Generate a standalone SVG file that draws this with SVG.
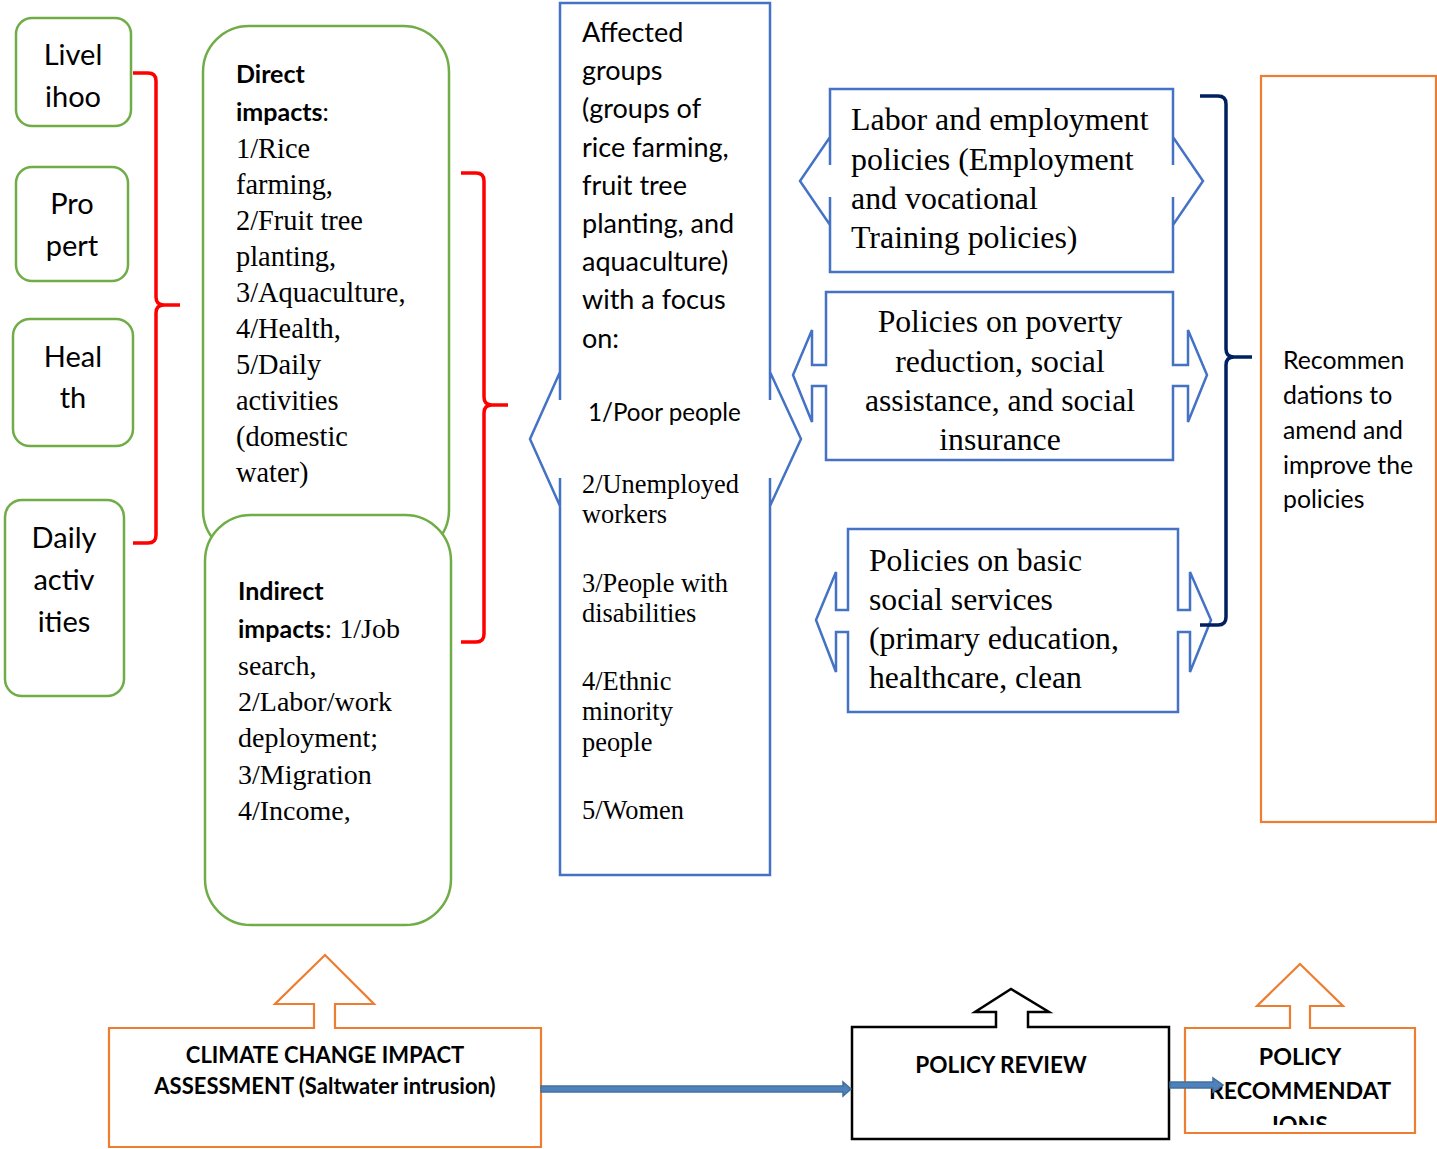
<svg xmlns="http://www.w3.org/2000/svg" width="1437" height="1149" viewBox="0 0 1437 1149">
<style>
.bg{fill:#fff}
.green{fill:#fff;stroke:#70AD47;stroke-width:2.5}
.blue{fill:#fff;stroke:#4472C4;stroke-width:2.5}
.orange{fill:#fff;stroke:#ED7D31;stroke-width:2.2}
.black{fill:#fff;stroke:#000;stroke-width:2.5}
.sans{font-family:Lato,"Liberation Sans",sans-serif;fill:#000}
.serif{font-family:"Liberation Serif","Times New Roman",serif;fill:#000}
.b{font-weight:bold}
.red{fill:none;stroke:#FF0000;stroke-width:3.5}
.navy{fill:none;stroke:#002060;stroke-width:3.5}
.barrow{fill:#4F81BD;stroke:#41719C;stroke-width:1.5}
</style>
<defs>
<clipPath id="recClip"><rect x="1186" y="1029" width="228" height="96"/></clipPath>
</defs>
<rect class="bg" x="0" y="0" width="1437" height="1149"/>

<g id="livelihood">
<rect class="green" x="16" y="18" width="115" height="108" rx="16"/>
<text class="sans" font-size="29" text-anchor="middle"><tspan x="73" y="65">Livel</tspan><tspan x="73" y="107">ihoo</tspan></text>
</g>
<g id="property">
<rect class="green" x="16" y="167" width="112" height="114" rx="16"/>
<text class="sans" font-size="29" text-anchor="middle"><tspan x="72" y="214">Pro</tspan><tspan x="72" y="256">pert</tspan></text>
</g>
<g id="health">
<rect class="green" x="13" y="319" width="120" height="127" rx="17"/>
<text class="sans" font-size="29" text-anchor="middle"><tspan x="73" y="367">Heal</tspan><tspan x="73" y="408">th</tspan></text>
</g>
<g id="daily">
<rect class="green" x="5" y="500" width="119" height="196" rx="17"/>
<text class="sans" font-size="29" text-anchor="middle"><tspan x="64" y="548">Daily</tspan><tspan x="64" y="590">activ</tspan><tspan x="64" y="632">ities</tspan></text>
</g>

<g id="direct">
<rect class="green" x="203" y="26" width="246" height="530" rx="46"/>
<text class="sans b" font-size="25"><tspan x="236" y="83">Direct</tspan><tspan x="236" y="121">impacts</tspan><tspan font-weight="normal">:</tspan></text>
<text class="serif" font-size="28.4"><tspan x="236" y="158">1/Rice</tspan><tspan x="236" y="194">farming,</tspan><tspan x="236" y="230">2/Fruit tree</tspan><tspan x="236" y="266">planting,</tspan><tspan x="236" y="302">3/Aquaculture,</tspan><tspan x="236" y="338">4/Health,</tspan><tspan x="236" y="374">5/Daily</tspan><tspan x="236" y="410">activities</tspan><tspan x="236" y="446">(domestic</tspan><tspan x="236" y="482">water)</tspan></text>
</g>
<g id="indirect">
<rect class="green" x="205" y="515" width="246" height="410" rx="46"/>
<text class="sans b" font-size="25" x="238" y="600">Indirect</text>
<text x="238" y="638"><tspan class="sans b" font-size="25">impacts</tspan><tspan class="serif" font-size="28">: 1/Job</tspan></text>
<text class="serif" font-size="28"><tspan x="238" y="675">search,</tspan><tspan x="238" y="711">2/Labor/work</tspan><tspan x="238" y="747">deployment;</tspan><tspan x="238" y="784">3/Migration</tspan><tspan x="238" y="820">4/Income,</tspan></text>
</g>

<g id="affected">
<path class="blue" d="M560,3 L770,3 L770,400 L770,372 L801,439 L770,506 L770,478 L770,875 L560,875 L560,478 L560,506 L530,439 L560,372 L560,400 Z"/>
<text class="sans" font-size="27"><tspan x="582" y="42">Affected</tspan><tspan x="582" y="80">groups</tspan><tspan x="582" y="118">(groups of</tspan><tspan x="582" y="157">rice farming,</tspan><tspan x="582" y="195">fruit tree</tspan><tspan x="582" y="233">planting, and</tspan><tspan x="582" y="271">aquaculture)</tspan><tspan x="582" y="309">with a focus</tspan><tspan x="582" y="348">on:</tspan></text>
<text class="sans" font-size="24.2"><tspan x="588" y="421">1/Poor people</tspan></text>
<text class="serif" font-size="26.4"><tspan x="582" y="493">2/Unemployed</tspan><tspan x="582" y="523">workers</tspan><tspan x="582" y="592">3/People with</tspan><tspan x="582" y="622">disabilities</tspan><tspan x="582" y="690">4/Ethnic</tspan><tspan x="582" y="720">minority</tspan><tspan x="582" y="751">people</tspan><tspan x="582" y="819">5/Women</tspan></text>
</g>

<g id="labor">
<path class="blue" d="M830,89 L1173,89 L1173,165 L1173,137 L1203,181 L1173,225 L1173,197 L1173,272 L830,272 L830,197 L830,225 L800,181 L830,137 L830,165 Z"/>
<text class="serif" font-size="31.9"><tspan x="851" y="130">Labor and employment</tspan><tspan x="851" y="170">policies (Employment</tspan><tspan x="851" y="209">and vocational</tspan><tspan x="851" y="248">Training policies)</tspan></text>
</g>
<g id="poverty">
<path class="blue" d="M826,292 L1173,292 L1173,365 L1188,365 L1188,330 L1207,375 L1188,422 L1188,386 L1173,386 L1173,460 L826,460 L826,386 L812,386 L812,422 L793,375 L812,330 L812,365 L826,365 Z"/>
<text class="serif" font-size="31.7" text-anchor="middle"><tspan x="1000" y="332">Policies on poverty</tspan><tspan x="1000" y="372">reduction, social</tspan><tspan x="1000" y="411">assistance, and social</tspan><tspan x="1000" y="450">insurance</tspan></text>
</g>
<g id="basic">
<path class="blue" d="M848,529 L1178,529 L1178,610 L1190,610 L1190,572 L1211,620 L1190,672 L1190,632 L1178,632 L1178,712 L848,712 L848,632 L836,632 L836,672 L816,620 L836,572 L836,610 L848,610 Z"/>
<text class="serif" font-size="31.7"><tspan x="869" y="571">Policies on basic</tspan><tspan x="869" y="610">social services</tspan><tspan x="869" y="649">(primary education,</tspan><tspan x="869" y="688">healthcare, clean</tspan></text>
</g>

<g id="recommendations">
<rect class="orange" x="1261" y="76" width="175" height="746"/>
<text class="sans" font-size="24.8"><tspan x="1283" y="369">Recommen</tspan><tspan x="1283" y="404">dations to</tspan><tspan x="1283" y="439">amend and</tspan><tspan x="1283" y="474">improve the</tspan><tspan x="1283" y="508">policies</tspan></text>
</g>

<g id="climate">
<path class="orange" d="M109,1028 L314,1028 L314,1004 L275,1004 L325,955 L374,1004 L335,1004 L335,1028 L541,1028 L541,1147 L109,1147 Z"/>
<text class="sans b" font-size="22" text-anchor="middle"><tspan x="325" y="1063">CLIMATE CHANGE IMPACT</tspan><tspan x="325" y="1094">ASSESSMENT (Saltwater intrusion)</tspan></text>
</g>
<g id="review">
<path class="black" d="M852,1027 L996,1027 L996,1012 L975,1012 L1011,989 L1049,1012 L1028,1012 L1028,1027 L1169,1027 L1169,1139 L852,1139 Z"/>
<text class="sans b" font-size="22.6" text-anchor="middle" x="1001" y="1073">POLICY REVIEW</text>
</g>
<g id="policyrec">
<path class="orange" d="M1185,1028 L1290,1028 L1290,1006 L1257,1006 L1300,964 L1343,1006 L1310,1006 L1310,1028 L1415,1028 L1415,1133 L1185,1133 Z"/>
<g clip-path="url(#recClip)">
<text class="sans b" font-size="23.2" text-anchor="middle"><tspan x="1300" y="1065">POLICY</tspan><tspan x="1300" y="1099">RECOMMENDAT</tspan><tspan x="1300" y="1133">IONS</tspan></text>
</g>
</g>

<g id="connectors">
<path class="red" d="M133,73 L148,73 Q156,73 156,81 L156,297 Q156,305 164,305 L180,305 M164,305 Q156,305 156,313 L156,535 Q156,543 148,543 L133,543"/>
<path class="red" d="M461,173 L476,173 Q484,173 484,181 L484,397 Q484,405 492,405 L508,405 M492,405 Q484,405 484,413 L484,634 Q484,642 476,642 L461,642"/>
<path class="navy" d="M1200,96 L1218,96 Q1226,96 1226,104 L1226,349 Q1226,357 1234,357 L1252,357 M1234,357 Q1226,357 1226,365 L1226,617 Q1226,625 1218,625 L1200,625"/>
<path class="barrow" d="M541,1086 L843,1086 L843,1082 L851,1089 L843,1096 L843,1092 L541,1092 Z"/>
<path class="barrow" d="M1170,1082 L1213,1082 L1213,1078 L1223,1085 L1213,1092 L1213,1088 L1170,1088 Z"/>
</g>
</svg>
